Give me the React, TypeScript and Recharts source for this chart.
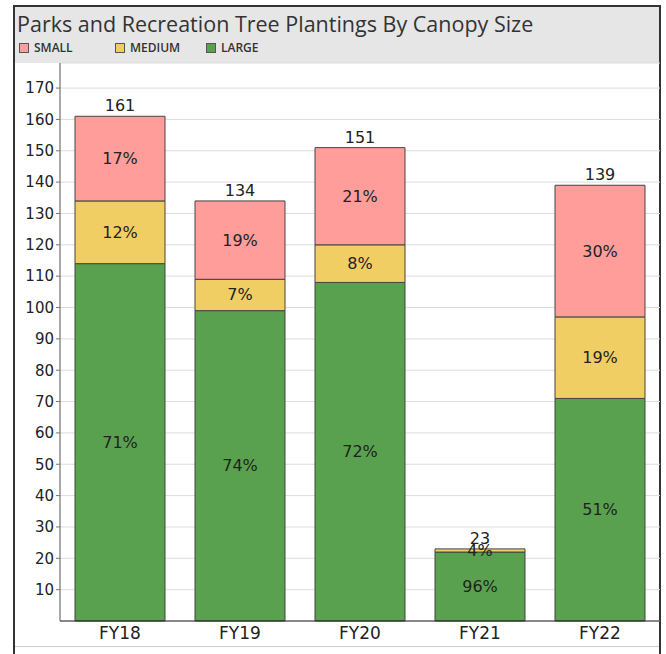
import React from 'react';
import {
  BarChart,
  Bar,
  XAxis,
  YAxis,
  CartesianGrid,
  LabelList
} from 'recharts';

const years = ['FY18', 'FY19', 'FY20', 'FY21', 'FY22'];
const large = [114, 99, 108, 22, 71];
const medium = [20, 10, 12, 1, 26];
const small = [27, 25, 31, 0, 42];
const yTicks = [10, 20, 30, 40, 50, 60, 70, 80, 90, 100, 110, 120, 130, 140, 150, 160, 170];

const colors = { small: '#ff9d9a', medium: '#f1ce63', large: '#59a14f' };
const titleFont = '"Open Sans", "Noto Sans", sans-serif';
const font = '"DejaVu Sans", sans-serif';

const pct = (v: number, t: number) => (v ? Math.round((v / t) * 100) + '%' : '');

// percentages and totals go into the rows so each label reads its own entry
const data = years.map((year, i) => {
  const total = large[i] + medium[i] + small[i];
  return {
    year,
    large: large[i],
    medium: medium[i],
    small: small[i],
    largePct: pct(large[i], total),
    mediumPct: pct(medium[i], total),
    smallPct: pct(small[i], total),
    totalOnSmall: small[i] ? String(total) : '',
    totalOnMedium: small[i] ? '' : String(total)
  };
});

function PctLabel(props: any) {
  const { x, y, width, height, value } = props;
  if (!value) return null;
  return (
    <text
      x={x + width / 2}
      y={y + height / 2}
      textAnchor="middle"
      dominantBaseline="central"
      fontSize={16}
      fill="#222"
      fontFamily={font}
    >
      {value}
    </text>
  );
}

function TotalLabel(props: any) {
  const { x, y, width, value } = props;
  if (!value) return null;
  return (
    <text
      x={x + width / 2}
      y={y - 5}
      textAnchor="middle"
      fontSize={16}
      fill="#222"
      fontFamily={font}
    >
      {value}
    </text>
  );
}

function LegendItem({ color, label, left }: { color: string; label: string; left: number }) {
  return (
    <div style={{ position: 'absolute', left, top: 39, display: 'flex', alignItems: 'center' }}>
      <div style={{ width: 8, height: 8, background: color, border: '1px solid #555', marginRight: 5 }} />
      <span style={{ fontSize: 12, color: '#333', fontFamily: titleFont, fontWeight: 600 }}>{label}</span>
    </div>
  );
}

export default function App() {
  return (
    <div style={{ position: 'absolute', left: 0, top: 0, width: 666, height: 654, background: '#fff', overflow: 'hidden' }}>
      <div
        style={{
          position: 'absolute',
          left: 13,
          top: 5,
          width: 644,
          height: 660,
          border: '2px solid #333'
        }}
      />
      <div style={{ position: 'absolute', left: 15, top: 7, width: 644, height: 56, background: '#e6e6e6' }} />
      <div
        style={{
          position: 'absolute',
          left: 17,
          top: 9,
          fontSize: 21.5,
          color: '#333',
          fontFamily: titleFont,
          whiteSpace: 'nowrap'
        }}
      >
        Parks and Recreation Tree Plantings By Canopy Size
      </div>
      <LegendItem color={colors.small} label="SMALL" left={19} />
      <LegendItem color={colors.medium} label="MEDIUM" left={115} />
      <LegendItem color={colors.large} label="LARGE" left={206} />
      <div style={{ position: 'absolute', left: 15, top: 646, width: 644, height: 1, background: '#ccc' }} />
      <div style={{ position: 'absolute', left: 0, top: 0 }}>
        <BarChart
          width={666}
          height={654}
          data={data}
          margin={{ top: 63, right: 6, bottom: 3, left: 15 }}
          barCategoryGap="12.5%"
        >
          <CartesianGrid vertical={false} stroke="#dcdcdc" />
          <XAxis
            dataKey="year"
            tickLine={false}
            axisLine={{ stroke: '#222' }}
            tick={{ fontSize: 17, fill: '#222', fontFamily: font }}
            tickMargin={0}
          />
          <YAxis
            width={45}
            domain={[0, 178]}
            ticks={yTicks}
            interval={0}
            tickSize={4}
            axisLine={{ stroke: '#555' }}
            tickLine={{ stroke: '#777' }}
            tick={{ fontSize: 15, fill: '#222', fontFamily: font }}
          />
          <Bar dataKey="large" stackId="a" fill={colors.large} stroke="#444" isAnimationActive={false}>
            <LabelList dataKey="largePct" content={PctLabel} />
          </Bar>
          <Bar dataKey="medium" stackId="a" fill={colors.medium} stroke="#444" isAnimationActive={false}>
            <LabelList dataKey="mediumPct" content={PctLabel} />
            <LabelList dataKey="totalOnMedium" content={TotalLabel} />
          </Bar>
          <Bar dataKey="small" stackId="a" fill={colors.small} stroke="#444" isAnimationActive={false}>
            <LabelList dataKey="smallPct" content={PctLabel} />
            <LabelList dataKey="totalOnSmall" content={TotalLabel} />
          </Bar>
        </BarChart>
      </div>
    </div>
  );
}
